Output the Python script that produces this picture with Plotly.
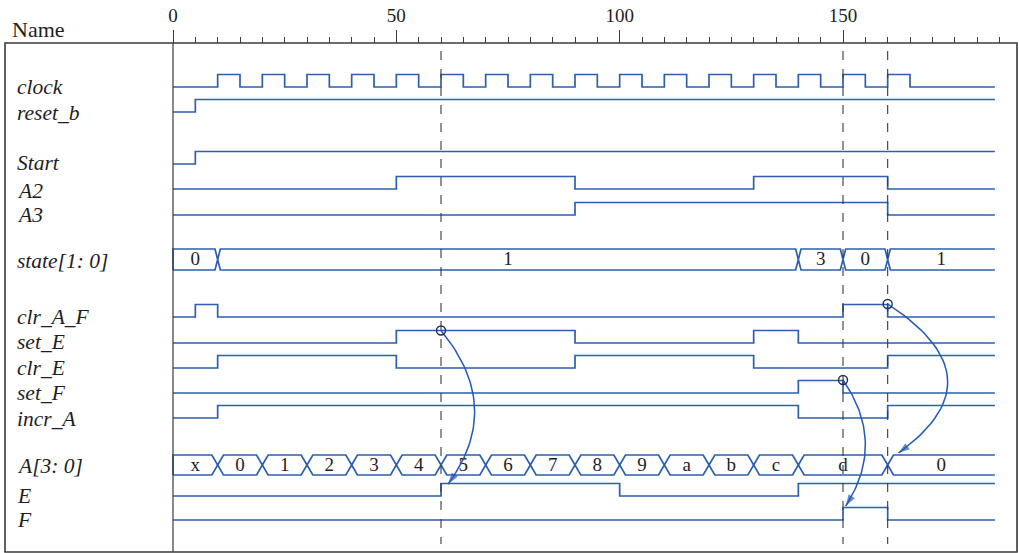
"""Timing diagram: simulation waveforms of a binary counter controller."""

import plotly.graph_objects as go

COLORS = {
    "wave": "#2d5fae",
    "arrow": "#2559b8",
    "frame": "#3a3a3a",
    "text": "#1e1e1e",
    "circle": "#1f2b55",
}
SERIF = "Liberation Serif"

T_END = 184

# ---- waveform data (edge times and the level that follows each edge) ----
CLOCK_T = [0, 10, 15, 20, 25, 30, 35, 40, 45, 50, 55, 60, 65, 70, 75, 80, 85,
           90, 95, 100, 105, 110, 115, 120, 125, 130, 135, 140, 145, 150, 155,
           160, 165]
CLOCK_V = [0, 1, 0, 1, 0, 1, 0, 1, 0, 1, 0, 1, 0, 1, 0, 1, 0,
           1, 0, 1, 0, 1, 0, 1, 0, 1, 0, 1, 0, 1, 0,
           1, 0]
RESET_T, RESET_V = [0, 5], [0, 1]
START_T, START_V = [0, 5], [0, 1]
A2_T, A2_V = [0, 50, 90, 130, 160], [0, 1, 0, 1, 0]
A3_T, A3_V = [0, 90, 160], [0, 1, 0]
CLR_AF_T, CLR_AF_V = [0, 5, 10, 150, 160], [0, 1, 0, 1, 0]
SET_E_T, SET_E_V = [0, 50, 90, 130, 140], [0, 1, 0, 1, 0]
CLR_E_T, CLR_E_V = [0, 10, 50, 90, 130, 160], [0, 1, 0, 1, 0, 1]
SET_F_T, SET_F_V = [0, 140, 150], [0, 1, 0]
INCR_A_T, INCR_A_V = [0, 10, 140, 160], [0, 1, 0, 1]
E_T, E_V = [0, 60, 100, 140], [0, 1, 0, 1]
F_T, F_V = [0, 150, 160], [0, 1, 0]

STATE_T = [0, 10, 140, 150, 160]
STATE_VAL = ["0", "1", "3", "0", "1"]
A_T = [0, 10, 20, 30, 40, 50, 60, 70, 80, 90, 100, 110, 120, 130, 140, 160]
A_VAL = ["x", "0", "1", "2", "3", "4", "5", "6", "7", "8", "9", "a", "b", "c", "d", "0"]

MARKER_TIMES = [60, 150, 160]
AXIS_TICKS = [0, 50, 100, 150]
MINOR_TICKS = [5, 10, 15, 20, 25, 30, 35, 40, 45, 55, 60, 65, 70, 75, 80, 85, 90,
               95, 105, 110, 115, 120, 125, 130, 135, 140, 145, 155, 160, 165,
               170, 175, 180, 185]

# ---- row layout (pixel rows of the page, y grows downward) ----
BIT_H = 12.5
BIT_ROWS = [
    # label, times, levels, low-level y, label y
    ("clock", CLOCK_T, CLOCK_V, 87, 87),
    ("reset_b", RESET_T, RESET_V, 112, 113),
    ("Start", START_T, START_V, 164, 163),
    ("A2", A2_T, A2_V, 189, 191),
    ("A3", A3_T, A3_V, 215, 215),
    ("clr_A_F", CLR_AF_T, CLR_AF_V, 317, 317),
    ("set_E", SET_E_T, SET_E_V, 343, 342),
    ("clr_E", CLR_E_T, CLR_E_V, 368, 368),
    ("set_F", SET_F_T, SET_F_V, 393, 393),
    ("incr_A", INCR_A_T, INCR_A_V, 418, 419),
    ("E", E_T, E_V, 496, 496),
    ("F", F_T, F_V, 520, 520),
]
BUS_ROWS = [
    # label, times, values, top y, bottom y, edge slant
    ("state[1: 0]", STATE_T, STATE_VAL, 249, 270, 0.6),
    ("A[3: 0]", A_T, A_VAL, 455, 475, 1.3),
]

# curved cause/effect arrows: start (t, y), end (t, y), furthest reach in t
ARROWS = [
    ((60, 330.5), (61.6, 484), 67.5),
    ((150, 380), (150.6, 506), 155.0),
    ((160, 304), (162.4, 453), 173.4),
]


def step_xy(times, levels, low, height):
    xs, ys = [], []
    for t, v in zip(times, levels):
        xs.append(t)
        ys.append(low - v * height)
    xs.append(T_END)
    ys.append(ys[-1])
    return xs, ys


def bus_xy(times, top, bot, slant):
    mid = (top + bot) / 2
    inner = times[1:]
    xt, yt = [0, 0], [bot, top]
    xb, yb = [0], [bot]
    for t in inner:
        xt += [t - slant, t, t + slant]
        yt += [top, mid, top]
        xb += [t - slant, t, t + slant]
        yb += [bot, mid, bot]
    xt.append(T_END)
    yt.append(top)
    xb.append(T_END)
    yb.append(bot)
    return xt + [None] + xb, yt + [None] + yb


def bezier(p0, p2, reach, n=40):
    cx = 2 * reach - (p0[0] + p2[0]) / 2
    cy = (p0[1] + p2[1]) / 2
    xs, ys = [], []
    for i in range(n + 1):
        u = i / n
        xs.append((1 - u) ** 2 * p0[0] + 2 * u * (1 - u) * cx + u ** 2 * p2[0])
        ys.append((1 - u) ** 2 * p0[1] + 2 * u * (1 - u) * cy + u ** 2 * p2[1])
    return xs, ys


W, H = 1019, 553
PX_PER_T = 670 / 150
X0_PX = 173
x_range = [-X0_PX / PX_PER_T, (W - X0_PX) / PX_PER_T]

fig = go.Figure()
label_font = {"family": SERIF, "size": 21.5, "color": COLORS["text"], "style": "italic"}
annotations = []

for name, times, levels, low, ly in BIT_ROWS:
    xs, ys = step_xy(times, levels, low, BIT_H)
    fig.add_trace(go.Scatter(x=xs, y=ys, mode="lines", line_shape="hv",
                             line={"color": COLORS["wave"], "width": 1.7},
                             hoverinfo="skip", showlegend=False))
    annotations.append(dict(text=name, x=15 / W, xref="paper", y=ly, yref="y",
                            xanchor="left", yanchor="middle", showarrow=False,
                            font=label_font))

for name, times, vals, top, bot, slant in BUS_ROWS:
    xs, ys = bus_xy(times, top, bot, slant)
    fig.add_trace(go.Scatter(x=xs, y=ys, mode="lines",
                             line={"color": COLORS["wave"], "width": 1.7},
                             hoverinfo="skip", showlegend=False))
    bounds = times + [T_END]
    centers = [(bounds[i] + bounds[i + 1]) / 2 for i in range(len(vals))]
    fig.add_trace(go.Scatter(x=centers, y=[(top + bot) / 2 + 1] * len(vals),
                             mode="text", text=vals,
                             textfont={"family": SERIF, "size": 19, "color": COLORS["text"]},
                             hoverinfo="skip", showlegend=False))
    annotations.append(dict(text=name, x=15 / W, xref="paper", y=(top + bot) / 2 + 1,
                            yref="y", xanchor="left", yanchor="middle",
                            showarrow=False, font=label_font))

for p0, p2, reach in ARROWS:
    xs, ys = bezier(p0, p2, reach)
    sizes = [0] * (len(xs) - 1) + [12]
    fig.add_trace(go.Scatter(x=xs, y=ys, mode="lines+markers",
                             line={"color": COLORS["arrow"], "width": 1.5},
                             marker={"symbol": "arrow", "size": sizes, "angleref": "previous",
                                     "color": COLORS["arrow"], "line": {"width": 0}},
                             hoverinfo="skip", showlegend=False))

fig.add_trace(go.Scatter(x=[a[0][0] for a in ARROWS], y=[a[0][1] for a in ARROWS],
                         mode="markers",
                         marker={"symbol": "circle-open", "size": 9,
                                 "color": COLORS["circle"], "line": {"width": 1.4}},
                         hoverinfo="skip", showlegend=False))

shapes = [
    dict(type="rect", xref="paper", yref="y", x0=5 / W, x1=1017 / W, y0=43, y1=552,
         line={"color": COLORS["frame"], "width": 1.6}),
    dict(type="line", xref="x", yref="y", x0=0, x1=0, y0=43, y1=552,
         line={"color": COLORS["frame"], "width": 1.2}),
]
for t in MARKER_TIMES:
    shapes.append(dict(type="line", xref="x", yref="y", x0=t, x1=t, y0=51, y1=544,
                       line={"color": COLORS["frame"], "width": 1.1, "dash": "dash"}))

annotations.append(dict(text="Name", x=10 / W, xref="paper", y=29, yref="y",
                        xanchor="left", yanchor="middle", showarrow=False,
                        font={"family": SERIF, "size": 22, "color": COLORS["text"]}))

fig.update_layout(
    width=W,
    height=H,
    margin={"l": 0, "r": 0, "t": 0, "b": 0, "pad": 0},
    paper_bgcolor="white",
    plot_bgcolor="white",
    showlegend=False,
    shapes=shapes,
    annotations=annotations,
    xaxis={
        "range": x_range,
        "side": "top",
        "anchor": "free",
        "position": 1 - 43 / H,
        "showgrid": False,
        "zeroline": False,
        "showline": False,
        "ticks": "outside",
        "ticklen": 13,
        "tickwidth": 1.2,
        "tickcolor": COLORS["frame"],
        "tickmode": "array",
        "tickvals": AXIS_TICKS,
        "ticktext": [str(v) for v in AXIS_TICKS],
        "tickfont": {"family": SERIF, "size": 19, "color": COLORS["text"]},
        "minor": {"tickmode": "array", "tickvals": MINOR_TICKS, "ticks": "outside",
                  "ticklen": 6, "tickwidth": 1.2, "tickcolor": COLORS["frame"],
                  "showgrid": False},
        "fixedrange": True,
    },
    yaxis={"range": [H, 0], "visible": False, "fixedrange": True},
)

fig.write_html("out.html", config={"displayModeBar": False},
               post_script="document.body.style.margin = '0';")
